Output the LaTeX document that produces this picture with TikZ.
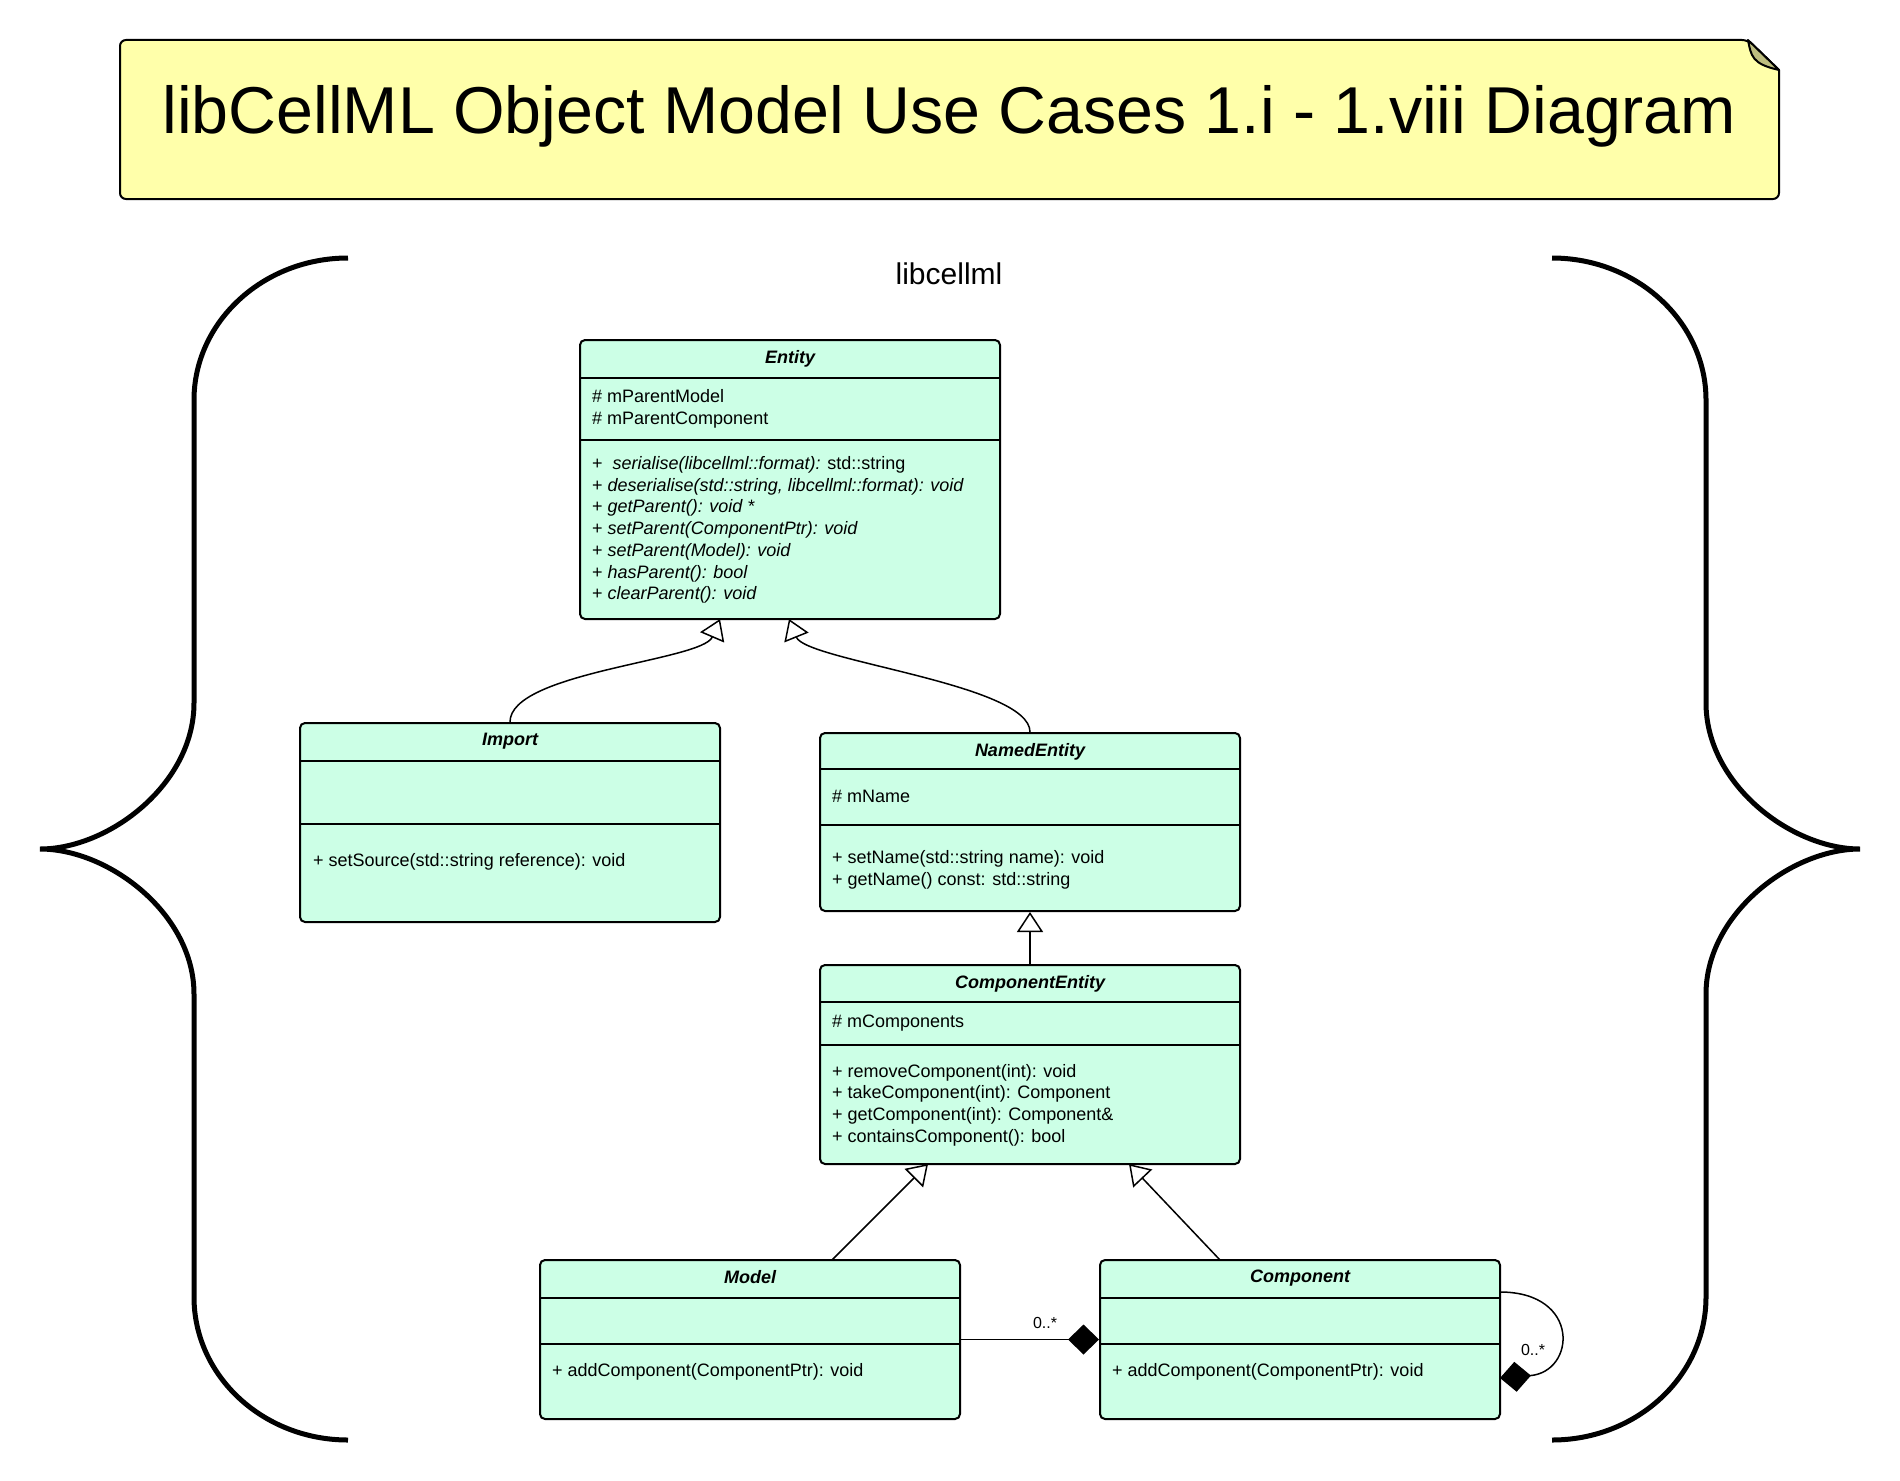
\documentclass[tikz,border=0pt]{standalone}
\usepackage{fontspec}
\setmainfont{Liberation Sans}
\usetikzlibrary{arrows.meta,calc}
\definecolor{mint}{HTML}{CCFFE6}
\definecolor{notefill}{HTML}{FFFFAA}
\definecolor{foldfill}{HTML}{BDBD7F}
\begin{document}
\begin{tikzpicture}[x=1pt,y=-1pt,
  classbox/.style={draw=black, line width=2pt, fill=mint, rounded corners=5pt, inner sep=0pt},
  divider/.style={line width=2pt},
  hdr/.style={font=\fontsize{18}{21.7}\selectfont\bfseries\itshape, inner sep=0pt, yshift=-2.5pt},
  member/.style={font=\fontsize{18}{21.7}\selectfont, align=left, anchor=west, inner sep=0pt, yshift=-2.5pt},
  inherit/.style={line width=1.5pt, -{Triangle[length=20pt,width=26pt,fill=white,line width=1.5pt]}},
  assoc/.style={line width=1.5pt, -{Diamond[length=31pt,width=30pt,fill=black]}},
  mult/.style={font=\fontsize{16}{18}\selectfont, inner sep=0pt, yshift=-1pt},
  bracestyle/.style={line width=5pt, line cap=butt},
  notestyle/.style={draw=black, line width=2pt, fill=notefill}
]
\useasboundingbox (0,0) rectangle (1900,1480);

% title note
\draw[notestyle, line join=round] (1748,40) -- (1779,70) [rounded corners=6pt] -- (1779,199) -- (120,199) -- (120,40) -- cycle;
\draw[line width=2pt, fill=foldfill, line join=round] (1748,40) .. controls (1751,56) and (1752,64) .. (1779,70) -- cycle;
\node[font=\fontsize{66.3}{80}\selectfont, inner sep=0pt] (title) at (949,116) {libCellML Object Model Use Cases 1.i - 1.viii Diagram};

% package label
\node[font=\fontsize{30}{36}\selectfont, inner sep=0pt] (pkg) at (949,274) {libcellml};

% braces
\draw[bracestyle] (348,258) .. controls (263,258) and (194,322) .. (194,400) -- (194,703)
  .. controls (194,784) and (109,849) .. (40,849)
  .. controls (109,849) and (194,914) .. (194,994) -- (194,1297)
  .. controls (194,1376) and (263,1440) .. (348,1440);
\draw[bracestyle] (1552,258) .. controls (1637,258) and (1706,322) .. (1706,400) -- (1706,703)
  .. controls (1706,784) and (1791,849) .. (1860,849)
  .. controls (1791,849) and (1706,914) .. (1706,994) -- (1706,1297)
  .. controls (1706,1376) and (1637,1440) .. (1552,1440);

% Entity
\node[classbox, minimum width=420pt, minimum height=279pt] (entity) at (790,479.5) {};
\draw[divider] (580,378) -- (1000,378);
\draw[divider] (580,440) -- (1000,440);
\node[hdr] (entityT) at (790,356) {Entity};
\node[member] (entityA) at (592,406) {\# mParentModel\\\# mParentComponent};
\node[member] (entityM) at (592,527.5) {+\ \ \textit{serialise(libcellml::format):} std::string\\
+ \textit{deserialise(std::string, libcellml::format): void}\\
+ \textit{getParent(): void *}\\
+ \textit{setParent(ComponentPtr): void}\\
+ \textit{setParent(Model): void}\\
+ \textit{hasParent(): bool}\\
+ \textit{clearParent(): void}};

% Import
\node[classbox, minimum width=420pt, minimum height=199pt] (import) at (510,822.5) {};
\draw[divider] (300,761) -- (720,761);
\draw[divider] (300,824) -- (720,824);
\node[hdr] (importT) at (510,739) {Import};
\node[member] (importM) at (313,859) {+ setSource(std::string reference): void};

% NamedEntity
\node[classbox, minimum width=420pt, minimum height=178pt] (named) at (1030,822) {};
\draw[divider] (820,769) -- (1240,769);
\draw[divider] (820,825) -- (1240,825);
\node[hdr] (namedT) at (1030,749) {NamedEntity};
\node[member] (namedA) at (832,794) {\# mName};
\node[member] (namedM) at (832,867) {+ setName(std::string name): void\\+ getName() const: std::string};

% ComponentEntity
\node[classbox, minimum width=420pt, minimum height=199pt] (compent) at (1030,1064.5) {};
\draw[divider] (820,1002) -- (1240,1002);
\draw[divider] (820,1045) -- (1240,1045);
\node[hdr] (compentT) at (1030,981) {ComponentEntity};
\node[member] (compentA) at (832,1021) {\# mComponents};
\node[member] (compentM) at (832,1102.5) {+ removeComponent(int): void\\
+ takeComponent(int): Component\\
+ getComponent(int): Component\&\\
+ containsComponent(): bool};

% Model
\node[classbox, minimum width=420pt, minimum height=159pt] (model) at (750,1339.5) {};
\draw[divider] (540,1298) -- (960,1298);
\draw[divider] (540,1344) -- (960,1344);
\node[hdr] (modelT) at (750,1275) {Model};
\node[member] (modelM) at (552,1369) {+ addComponent(ComponentPtr): void};

% Component
\node[classbox, minimum width=400pt, minimum height=159pt] (component) at (1300,1339.5) {};
\draw[divider] (1100,1298) -- (1500,1298);
\draw[divider] (1100,1344) -- (1500,1344);
\node[hdr] (componentT) at (1300,1276) {Component};
\node[member] (componentM) at (1112,1369) {+ addComponent(ComponentPtr): void};

% connector end points
\coordinate (eA) at (720,619);
\coordinate (eB) at (789,619);
\coordinate (ceA) at (928,1164);
\coordinate (ceB) at (1129,1164);
\coordinate (mTop) at (832,1260);
\coordinate (cTop) at (1220,1260);
\coordinate (cR1) at (1500,1292);
\coordinate (cR2) at (1500,1378);

% generalisations
\draw[inherit] (import.north) .. controls +(0,-50) and +(-18,42) .. (eA);
\draw[inherit] (named.north) .. controls +(0,-48) and +(17,42) .. (eB);
\draw[inherit] (compent.north) -- (named.south);
\draw[inherit] (mTop) -- (ceA);
\draw[inherit] (cTop) -- (ceB);

% compositions
\draw[assoc] (model.east) -- (component.west);
\node[mult] (m1) at (1045,1322) {0..*};
\draw[assoc] (cR1) .. controls (1581,1292) and (1576,1372) .. (cR2);
\node[mult] (m2) at (1533,1349) {0..*};
\end{tikzpicture}
\end{document}
